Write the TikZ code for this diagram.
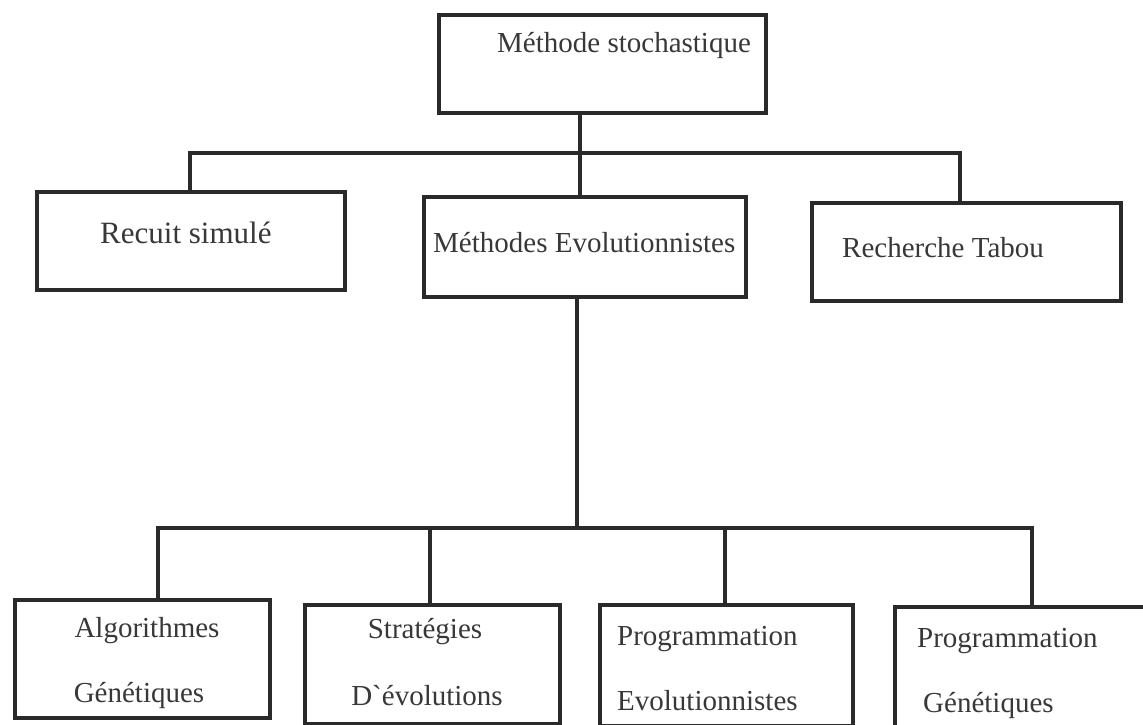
\documentclass[tikz,border=0pt]{standalone}
\usepackage{fontspec}
\setmainfont{Liberation Serif}
\definecolor{ink}{HTML}{2A2A2A}
\definecolor{txt}{HTML}{383838}
\begin{document}
\begin{tikzpicture}[x=1pt,y=-1pt,
  box/.style={draw=ink,line width=4pt,rectangle,inner sep=0pt},
  wire/.style={draw=ink,line width=4pt,line join=miter},
  lbl/.style={inner sep=0pt,text=txt,font=\fontsize{29}{34}\selectfont}]
  % page frame
  \fill[white] (0,0) rectangle (1143,725);
  \useasboundingbox (0,0) rectangle (1143,725);

  % boxes
  \node[box,minimum width=327pt,minimum height=98pt]  (top)   at (602.5,64) {};
  \node[box,minimum width=308pt,minimum height=98pt]  (recuit) at (191,241) {};
  \node[box,minimum width=322pt,minimum height=100pt] (meval) at (585,247) {};
  \node[box,minimum width=309pt,minimum height=98pt]  (tabou) at (966.5,252) {};
  \node[box,minimum width=255pt,minimum height=118pt] (alg)   at (142.5,659) {};
  \node[box,minimum width=255pt,minimum height=119pt] (strat) at (432.5,664.5) {};
  \node[box,minimum width=253pt,minimum height=121pt] (proge) at (726.5,665.5) {};
  \node[box,minimum width=253pt,minimum height=121pt] (progg) at (1021.5,667.5) {};

  % labels
  \node[lbl,anchor=base west] (tTop) at (497,53) {Méthode stochastique};
  \node[lbl,anchor=base west,font=\fontsize{31}{36}\selectfont] (tRec) at (100,243) {Recuit simulé};
  \node[lbl,anchor=base west] (tMe) at (433,252) {Méthodes Evolutionnistes};
  \node[lbl,anchor=base west] (tTab) at (842,257) {Recherche Tabou};
  \node[lbl,anchor=base] (tAlg1) at (147,637) {Algorithmes};
  \node[lbl,anchor=base] (tAlg2) at (139,702) {Génétiques};
  \node[lbl,anchor=base] (tStr1) at (425,638) {Stratégies};
  \node[lbl,anchor=base] (tStr2) at (427,705) {D\textasciigrave évolutions};
  \node[lbl,anchor=base west] (tPe1) at (617,645) {Programmation};
  \node[lbl,anchor=base west] (tPe2) at (617,710) {Evolutionnistes};
  \node[lbl,anchor=base west] (tPg1) at (917,647) {Programmation};
  \node[lbl,anchor=base west] (tPg2) at (923,712) {Génétiques};

  % bus junctions
  \coordinate (bL) at (190,153);
  \coordinate (bM) at (580,153);
  \coordinate (bR) at (960,153);
  \coordinate (cL) at (158,528);
  \coordinate (c2) at (430,528);
  \coordinate (cM) at (577,528);
  \coordinate (c3) at (725,528);
  \coordinate (cR) at (1032,528);

  % first level
  \draw[wire] (top.south -| bM) -- (meval.north -| bM);
  \draw[wire] (recuit.north -| bL) -- (bL) -- (bR) -- (tabou.north -| bR);

  % second level
  \draw[wire] (meval.south -| cM) -- (cM);
  \draw[wire] (alg.north -| cL) -- (cL) -- (cR) -- (progg.north -| cR);
  \draw[wire] (c2) -- (strat.north -| c2);
  \draw[wire] (c3) -- (proge.north -| c3);
\end{tikzpicture}
\end{document}
